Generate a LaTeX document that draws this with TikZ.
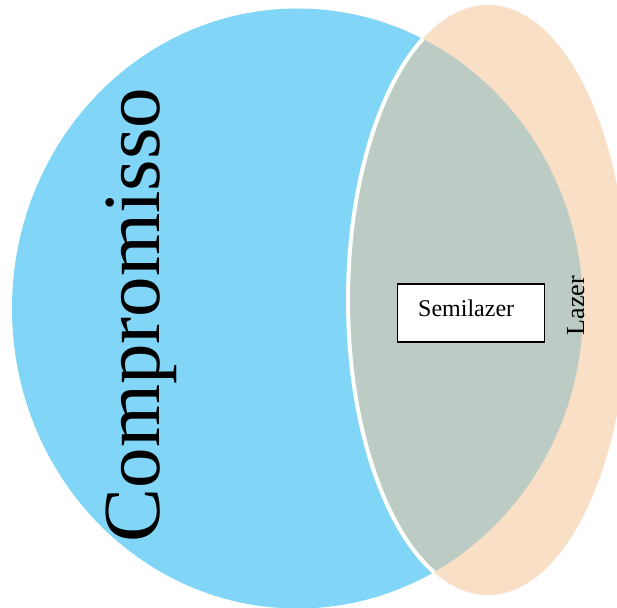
\documentclass[tikz,border=0pt]{standalone}
\usepackage{fontspec}
\setmainfont{Liberation Serif}
\definecolor{cblue}{RGB}{129,214,247}
\definecolor{corange}{RGB}{250,223,199}
\definecolor{cgray}{RGB}{188,203,196}
\begin{document}
\begin{tikzpicture}[x=1pt,y=-1pt,
  lbl/.style={inner sep=0pt, rotate=90, anchor=base}]
\useasboundingbox (0,0) rectangle (617,607);
\coordinate (bc) at (297.5,308.5);
\coordinate (oc) at (488,300);
\fill[cblue] (bc) ellipse [x radius=285.5pt, y radius=300pt];
\fill[corange] (oc) ellipse [x radius=140pt, y radius=295pt];
\begin{scope}
  \clip (bc) ellipse [x radius=285.5pt, y radius=300pt];
  \fill[cgray] (oc) ellipse [x radius=140pt, y radius=295pt];
  \draw[white, line width=4pt] (oc) ellipse [x radius=140pt, y radius=295pt];
\end{scope}
\node[lbl, font=\fontsize{81}{90}\selectfont] (comp) at (159.5,315) {Compromisso};
\node[draw=black, line width=1.6pt, fill=white, minimum width=147pt, minimum height=58pt,
  inner sep=0pt] (semi) at (471,313) {};
\node[inner sep=0pt, anchor=base west, font=\fontsize{24}{28}\selectfont] (semitext) at (418,316.5) {Semilazer};
\node[lbl, font=\fontsize{26}{30}\selectfont] (lazer) at (584,305.5) {Lazer};
\end{tikzpicture}
\end{document}
